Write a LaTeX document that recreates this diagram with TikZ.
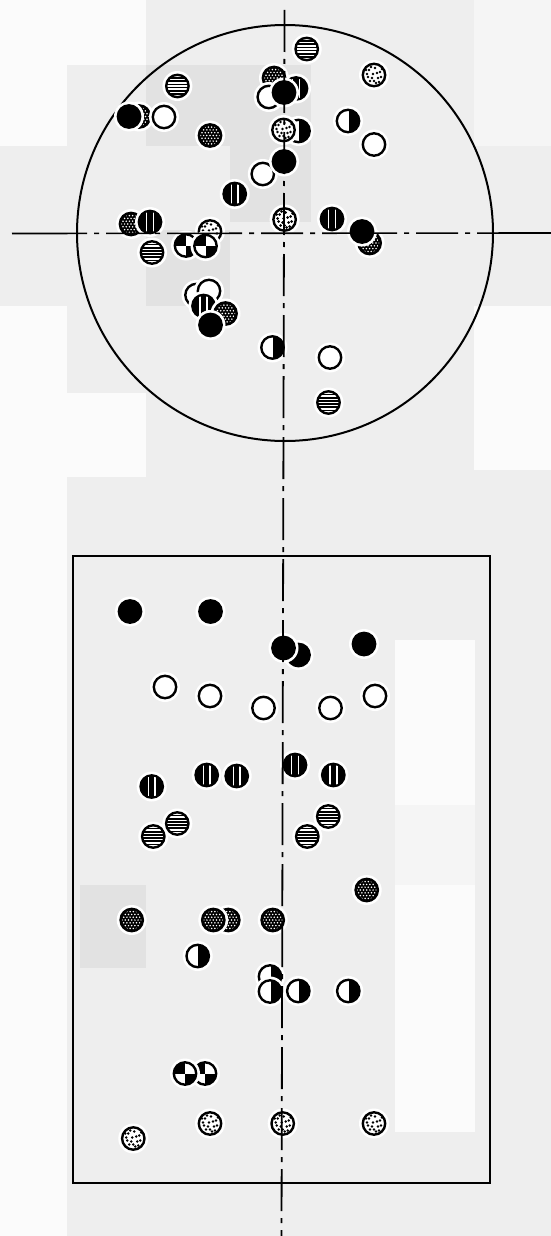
\documentclass[tikz,border=0pt]{standalone}
\definecolor{bgA}{HTML}{EEEEEE}
\definecolor{bgW}{HTML}{FBFBFB}
\definecolor{bgD}{HTML}{E2E2E2}
\definecolor{bgL}{HTML}{F5F5F5}
\tikzset{
  ring/.style={draw=black,line width=2.4pt},
  axisline/.style={draw=black,line width=1.8pt,dash pattern=on 42pt off 7pt on 5pt off 7pt},
  halo/.style={fill=white},
  pics/mSolid/.style={code={
    \fill[halo] (0,0) circle (15pt);
    \fill[black] (0,0) circle (12.4pt);}},
  pics/mOpen/.style={code={
    \fill[halo] (0,0) circle (15pt);
    \draw[ring,fill=white] (0,0) circle (11.2pt);}},
  pics/mV/.style={code={
    \fill[halo] (0,0) circle (15pt);
    \fill[black] (0,0) circle (12.4pt);
    \begin{scope}\clip (0,0) circle (10pt);
      \draw[white,line width=1.6pt] (-3.4,-13) -- (-3.4,13) (3.4,-13) -- (3.4,13);
    \end{scope}}},
  pics/mH/.style={code={
    \fill[halo] (0,0) circle (15pt);
    \fill[white] (0,0) circle (11.2pt);
    \begin{scope}\clip (0,0) circle (11.2pt);
      \foreach \yy in {-8,-4.8,...,8} \draw[black,line width=1.7pt] (-13,\yy) -- (13,\yy);
    \end{scope}
    \draw[ring] (0,0) circle (11.2pt);}},
  pics/mDot/.style={code={
    \fill[halo] (0,0) circle (15pt);
    \fill[black] (0,0) circle (12.4pt);
    \begin{scope}\clip (0,0) circle (9.6pt);
      \foreach \i in {-3,...,3} \foreach \j in {-4,-2,0,2,4} {
        \fill[white] (\i*3.2,\j*2.8) circle (0.85pt);
        \fill[white] (\i*3.2+1.6,\j*2.8+2.8) circle (0.85pt);}
    \end{scope}}},
  pics/mHalf/.style={code={
    \fill[halo] (0,0) circle (15pt);
    \fill[white] (0,0) circle (11.2pt);
    \begin{scope}\clip (0,0) circle (11.2pt);
      \fill[black] (0.5,-13) rectangle (13,13);
    \end{scope}
    \draw[ring] (0,0) circle (11.2pt);}},
  pics/mQuarter/.style={code={
    \fill[halo] (0,0) circle (15pt);
    \fill[white] (0,0) circle (11.2pt);
    \begin{scope}\clip (0,0) circle (11.2pt);
      \fill[black] (0,0) rectangle (-13,-13);
      \fill[black] (0,0) rectangle (13,13);
      \fill[black] (-13,-2) rectangle (0,0);
    \end{scope}
    \draw[ring] (0,0) circle (11.2pt);}},
  pics/mSpeck/.style={code={
    \fill[halo] (0,0) circle (15pt);
    \fill[white] (0,0) circle (11.2pt);
    \begin{scope}\clip (0,0) circle (11.2pt);
      \foreach \p in {(-5,-5),(1,-7),(6,-3),(-1,-1),(4,3),(-6,2),(0,6),(-3,-8),(7,2),(-4,6),(3,-2),(-7,-1),(2,8),(5,7),(-2,3),(8,-6),(-8,-5)}
        \fill[black] \p circle (1.4pt);
    \end{scope}
    \draw[ring] (0,0) circle (11.2pt);}},
}
\begin{document}
\begin{tikzpicture}[x=1pt,y=-1pt]
% background
\fill[bgA] (0,0) rectangle (551,1236);
\useasboundingbox (0,0) rectangle (551,1236);
\fill[bgW] (0,0) rectangle (146,65);
\fill[bgW] (0,65) rectangle (67,146);
\fill[bgL] (474,0) rectangle (551,146);
\fill[bgW] (474,306) rectangle (551,470);
\fill[bgW] (0,306) rectangle (67,1236);
\fill[bgW] (67,393) rectangle (146,477);
\fill[bgD] (146,65) rectangle (311,146);
\fill[bgD] (230,146) rectangle (311,222);
\fill[bgD] (146,230) rectangle (230,306);
\fill[bgW] (395,640) rectangle (475,805);
\fill[bgL] (395,805) rectangle (475,885);
\fill[bgW] (395,885) rectangle (475,1132);
\fill[bgD] (80,885) rectangle (146,968);
% outlines
\node[draw=black,line width=2pt,circle,minimum size=416pt,inner sep=0pt] (disc) at (285,233) {};
\node[draw=black,line width=1.6pt,rectangle,minimum width=417pt,minimum height=627pt,inner sep=0pt] (plate) at (281.5,869.5) {};
% markers in circle
\pic at (306.7,49) {mH};
\pic at (374,75) {mSpeck};
\pic at (177.4,86) {mH};
\pic at (296,88.5) {mV};
\pic at (274,78) {mDot};
\pic at (268.8,97) {mOpen};
\pic at (284,92.5) {mSolid};
\pic at (139,116.5) {mDot};
\pic at (129,116.5) {mSolid};
\pic at (164,117) {mOpen};
\pic at (210,135.5) {mDot};
\pic at (348,121) {mHalf};
\pic at (374,144.5) {mOpen};
\pic at (298.5,131) {mHalf};
\pic at (283.5,130) {mSpeck};
\pic at (262.8,174) {mOpen};
\pic at (284,161.5) {mSolid};
\pic at (234.7,194) {mV};
\pic at (131,224) {mDot};
\pic at (150,222) {mV};
\pic at (152,252.5) {mH};
\pic at (210,231.5) {mSpeck};
\pic at (186,245.5) {mQuarter};
\pic at (205.5,246) {mQuarter};
\pic at (284.6,219.5) {mSpeck};
\pic at (332,219) {mV};
\pic at (369.6,243) {mDot};
\pic at (362,231.5) {mSolid};
\pic at (196.5,295) {mOpen};
\pic at (209,291) {mOpen};
\pic at (203.5,306) {mV};
\pic at (225.5,313.5) {mDot};
\pic at (210.5,325) {mSolid};
\pic at (272.5,347.5) {mHalf};
\pic at (330,357.5) {mOpen};
\pic at (328.5,402.5) {mH};
% markers in rectangle
\pic at (130,611.5) {mSolid};
\pic at (210.5,611.5) {mSolid};
\pic at (298.5,655) {mSolid};
\pic at (283.5,648) {mSolid};
\pic at (364,644) {mSolid};
\pic at (165,687) {mOpen};
\pic at (210,696) {mOpen};
\pic at (263.5,708) {mOpen};
\pic at (330.5,708) {mOpen};
\pic at (375,696) {mOpen};
\pic at (151.7,786.5) {mV};
\pic at (206.7,775) {mV};
\pic at (236.7,776) {mV};
\pic at (295,765) {mV};
\pic at (333.3,775) {mV};
\pic at (153.3,836.5) {mH};
\pic at (177.3,823.5) {mH};
\pic at (328.3,816.5) {mH};
\pic at (307.3,836.5) {mH};
\pic at (366.7,890) {mDot};
\pic at (131.7,920) {mDot};
\pic at (228.3,920) {mDot};
\pic at (213.3,920) {mDot};
\pic at (272.7,920) {mDot};
\pic at (197.7,956) {mHalf};
\pic at (270,976.5) {mHalf};
\pic at (270,991.5) {mHalf};
\pic at (298.3,991) {mHalf};
\pic at (348.3,991) {mHalf};
\pic at (205,1073.5) {mQuarter};
\pic at (185,1073.5) {mQuarter};
\pic at (133.3,1138.5) {mSpeck};
\pic at (210,1123.5) {mSpeck};
\pic at (282.7,1123.5) {mSpeck};
\pic at (374,1123.5) {mSpeck};
% axes
\coordinate (vtop) at (284.5,10);
\coordinate (vbot) at (281.5,1236);
\coordinate (hl) at (12,233.5);
\coordinate (hr) at (551,233);
\draw[axisline,dash phase=0pt] (vtop) -- (vbot);
\draw[axisline,line width=1.6pt,dash pattern=on 75pt off 7pt on 5pt off 7pt on 42pt off 7pt on 5pt off 7pt] (hl) -- (hr);
\end{tikzpicture}
\end{document}
